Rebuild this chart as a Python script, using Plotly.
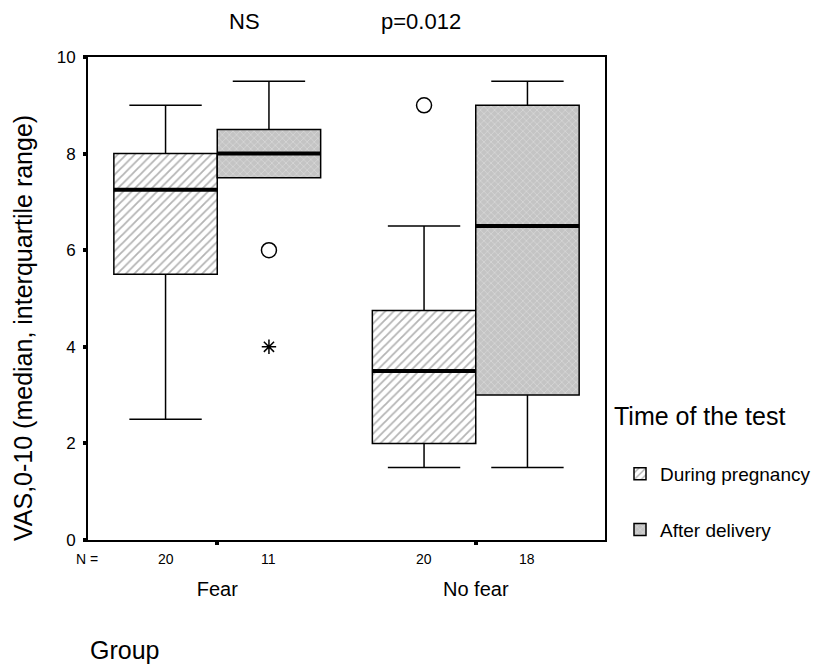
import plotly.graph_objects as go

groups = ["Fear", "No fear"]
series = ["During pregnancy", "After delivery"]
n_counts = {"During pregnancy": [20, 20], "After delivery": [11, 18]}
q1 = {"During pregnancy": [5.5, 2.0], "After delivery": [7.5, 3.0]}
median = {"During pregnancy": [7.25, 3.5], "After delivery": [8.0, 6.5]}
q3 = {"During pregnancy": [8.0, 4.75], "After delivery": [8.5, 9.0]}
lower_whisker = {"During pregnancy": [2.5, 1.5], "After delivery": [7.5, 1.5]}
upper_whisker = {"During pregnancy": [9.0, 6.5], "After delivery": [9.5, 9.5]}
outliers_circle = {"During pregnancy": [[], [9.0]], "After delivery": [[6.0], []]}
outliers_star = {"During pregnancy": [[], []], "After delivery": [[4.0], []]}
y_ticks = [0, 2, 4, 6, 8, 10]

FONT = "Arial, Liberation Sans, sans-serif"
styles = {
    "During pregnancy": dict(bg="#ffffff", fg="#6a6a6a", shape="/", size=6, solidity=0.3),
    "After delivery": dict(bg="#c4c4c4", fg="#f2f2f2", shape="x", size=5, solidity=0.25),
}
offsets = {"During pregnancy": -0.2, "After delivery": 0.2}
box_w = 0.4
cap_half = 0.14

W, H = 820, 667
L, R, T, B = 80, 223, 49, 135
PH = H - T - B
PW = W - L - R


def px_x(xf):
    return (xf - L) / PW


def px_y(yf):
    return (H - B - yf) / PH


fig = go.Figure()
gx = list(range(len(groups)))

for s in series:
    st = styles[s]
    fig.add_trace(go.Bar(
        x=gx, base=q1[s], y=[b - a for a, b in zip(q1[s], q3[s])],
        name=s, offsetgroup=s, legendgroup=s,
        marker=dict(color=st["bg"], line=dict(color="black", width=1.5),
                    pattern=dict(shape=st["shape"], fgcolor=st["fg"], bgcolor=st["bg"],
                                 size=st["size"], solidity=st["solidity"])),
        hoverinfo="skip",
    ))

for s in series:
    off = offsets[s]
    wx, wy, mx, my = [], [], [], []
    cx, cy, sx, sy = [], [], [], []
    for g in gx:
        c = g + off
        if upper_whisker[s][g] > q3[s][g]:
            wx += [c, c, None, c - cap_half, c + cap_half, None]
            wy += [q3[s][g], upper_whisker[s][g], None, upper_whisker[s][g], upper_whisker[s][g], None]
        if lower_whisker[s][g] < q1[s][g]:
            wx += [c, c, None, c - cap_half, c + cap_half, None]
            wy += [q1[s][g], lower_whisker[s][g], None, lower_whisker[s][g], lower_whisker[s][g], None]
        mx += [c - box_w / 2, c + box_w / 2, None]
        my += [median[s][g], median[s][g], None]
        for v in outliers_circle[s][g]:
            cx.append(c); cy.append(v)
        for v in outliers_star[s][g]:
            sx.append(c); sy.append(v)
    fig.add_trace(go.Scatter(x=wx, y=wy, mode="lines", line=dict(color="black", width=1.5),
                             showlegend=False, hoverinfo="skip"))
    fig.add_trace(go.Scatter(x=mx, y=my, mode="lines", line=dict(color="black", width=4),
                             showlegend=False, hoverinfo="skip"))
    if cx:
        fig.add_trace(go.Scatter(x=cx, y=cy, mode="markers",
                                 marker=dict(symbol="circle-open", size=15, color="black",
                                             line=dict(width=1.5)),
                                 showlegend=False, hoverinfo="skip"))
    if sx:
        fig.add_trace(go.Scatter(x=sx, y=sy, mode="markers",
                                 marker=dict(symbol="asterisk-open", size=12, color="black",
                                             line=dict(width=1.5, color="black")),
                                 showlegend=False, hoverinfo="skip"))

annotations = [dict(text="N =", x=-0.455, xref="x", xanchor="right", y=0, yref="paper",
                    yanchor="top", yshift=-9, showarrow=False,
                    font=dict(size=14, family=FONT, color="black"))]
for s in series:
    for g in gx:
        annotations.append(dict(text=str(n_counts[s][g]), x=g + offsets[s], xref="x",
                                xanchor="center",
                                y=0, yref="paper", yanchor="top", yshift=-9,
                                showarrow=False, font=dict(size=14, family=FONT, color="black")))
annotations += [
    dict(text="NS", x=px_x(236), y=px_y(13), xref="paper", yref="paper", showarrow=False,
         xanchor="center", yanchor="middle",
         font=dict(size=22, family=FONT, color="black")),
    dict(text="p=0.012", x=px_x(413), y=px_y(13), xref="paper", yref="paper", showarrow=False,
         xanchor="center", yanchor="middle",
         font=dict(size=22, family=FONT, color="black")),
    dict(text="Group", x=0, y=0, xref="paper", yref="paper", xanchor="left", yanchor="top",
         yshift=-94, showarrow=False, font=dict(size=25, family=FONT, color="black")),
    dict(text="Time of the test", x=px_x(604), y=px_y(408), xref="paper", yref="paper",
         xanchor="left", yanchor="middle", showarrow=False,
         font=dict(size=25, family=FONT, color="black")),
    dict(text="VAS,0-10 (median, interquartile range)", textangle=-90,
         x=px_x(15), y=px_y(320), xref="paper", yref="paper",
         xanchor="center", yanchor="middle", showarrow=False,
         font=dict(size=25, family=FONT, color="black")),
]

fig.update_layout(
    width=W, height=H,
    margin=dict(l=L, r=R, t=T, b=B, autoexpand=False),
    paper_bgcolor="white", plot_bgcolor="white",
    barmode="group", bargap=0.2, bargroupgap=0,
    font=dict(family=FONT, color="black"),
    showlegend=True,
    legend=dict(
        x=px_x(612), xanchor="left", y=px_y(447), yanchor="top",
        font=dict(size=19, family=FONT, color="black"), tracegroupgap=28,
        bgcolor="rgba(0,0,0,0)",
    ),
    xaxis=dict(range=[-0.5, 1.5], tickvals=gx, ticktext=groups, showgrid=False, zeroline=False,
               showline=True, linecolor="black", linewidth=2, mirror=True,
               ticks="outside", ticklen=3, tickwidth=4, tickcolor="black",
               tickfont=dict(size=20, family=FONT), ticklabelstandoff=27),
    yaxis=dict(range=[0, 10], tickvals=y_ticks, showgrid=False, zeroline=False,
               showline=True, linecolor="black", linewidth=2, mirror=True,
               ticks="outside", ticklen=3, tickwidth=4, tickcolor="black",
               tickfont=dict(size=17, family=FONT), ticklabelstandoff=4),
    annotations=annotations,
)

fig.write_html("out.html")
